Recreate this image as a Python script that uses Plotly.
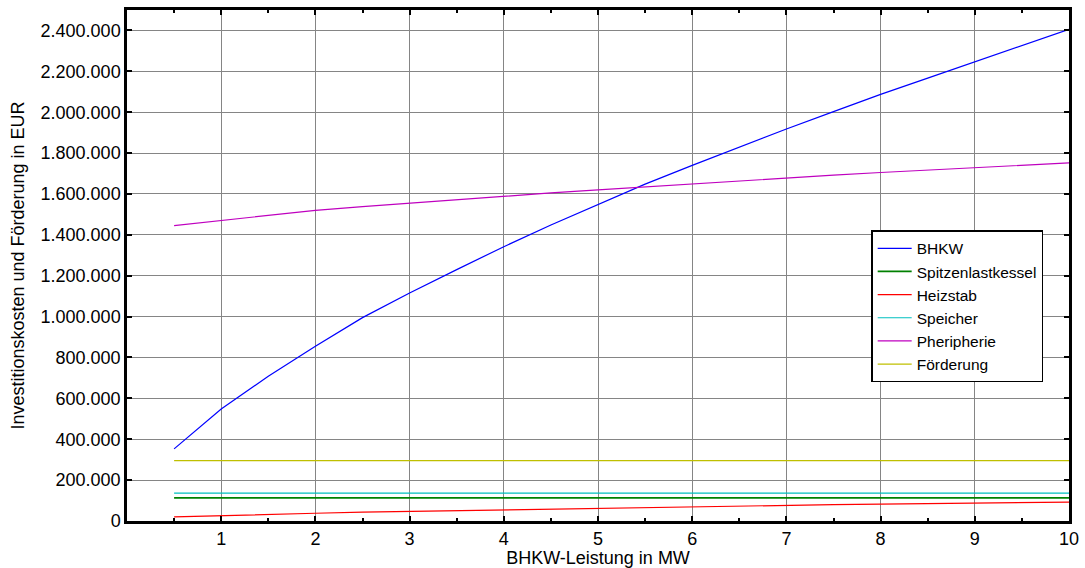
import plotly.graph_objects as go

# BHKW capacity in MW
leistung = [0.5, 1, 1.5, 2, 2.5, 3, 3.5, 4, 4.5, 5, 5.5, 6, 6.5, 7, 7.5, 8, 8.5, 9, 9.5, 10]

# Investment cost per component in EUR
bhkw = [353000, 548000, 708000, 855000, 995000, 1115000, 1230000, 1342000, 1448000, 1550000,
        1648000, 1740000, 1830000, 1918000, 2003000, 2087000, 2167000, 2246000, 2323000, 2405000]
spitzenlastkessel = [113000] * 20
heizstab = [20000, 27000, 33000, 38000, 43000, 47000, 51000, 55000, 59000, 63000,
            66500, 70000, 73500, 77000, 80000, 83000, 85000, 87000, 89500, 92000]
speicher = [136000] * 20
pheripherie = [1445000, 1470000, 1497000, 1520000, 1538000, 1555000, 1573000, 1590000, 1605000, 1620000,
               1635000, 1650000, 1664000, 1678000, 1692000, 1705000, 1717000, 1728000, 1740000, 1752000]
foerderung = [295000] * 20

series = [
    ("BHKW", bhkw, "#0000ff", 1.2),
    ("Spitzenlastkessel", spitzenlastkessel, "#008000", 1.8),
    ("Heizstab", heizstab, "#ff0000", 1.2),
    ("Speicher", speicher, "#00bfbf", 1.2),
    ("Pheripherie", pheripherie, "#bf00bf", 1.2),
    ("Förderung", foerderung, "#bfbf00", 1.2),
]

fig = go.Figure()
for name, values, color, width in series:
    fig.add_trace(go.Scatter(x=leistung, y=values, mode="lines", name=name,
                             line=dict(color=color, width=width)))

font_family = "Liberation Sans, Arial, sans-serif"
grid_color = "#858585"

fig.update_layout(
    width=1085, height=568,
    margin=dict(l=127, r=16, t=10, b=47),
    paper_bgcolor="white", plot_bgcolor="white",
    separators=",.",
    font=dict(family=font_family, size=18, color="black"),
    showlegend=True,
    legend=dict(x=0.79, y=0.569, xanchor="left", yanchor="top",
                bgcolor="white", bordercolor="black", borderwidth=1.5,
                font=dict(size=15.5), tracegroupgap=0, itemwidth=34,
                traceorder="normal"),
)

fig.update_xaxes(
    range=[0, 10], tickvals=list(range(1, 11)),
    ticks="inside", ticklen=5, tickwidth=1.5, tickcolor="black",
    minor=dict(dtick=0.5, tick0=0, ticks="inside", ticklen=3, tickcolor="black", showgrid=False),
    showgrid=True, gridcolor=grid_color, gridwidth=1,
    showline=True, linecolor="black", linewidth=2.5, mirror="ticks",
    zeroline=False, automargin=False,
    title=dict(text="BHKW-Leistung in MW", font=dict(size=18), standoff=4),
    tickfont=dict(size=18),
)

fig.update_yaxes(
    range=[0, 2500000], tickvals=list(range(0, 2400001, 200000)),
    tickformat=",d",
    ticks="inside", ticklen=5, tickwidth=1.5, tickcolor="black",
    showgrid=True, gridcolor=grid_color, gridwidth=1,
    showline=True, linecolor="black", linewidth=2.5, mirror="ticks",
    zeroline=False, automargin=False,
    title=dict(text="Investitionskosten und Förderung in EUR", font=dict(size=18), standoff=12),
    tickfont=dict(size=18),
)

fig.write_html("out.html")
